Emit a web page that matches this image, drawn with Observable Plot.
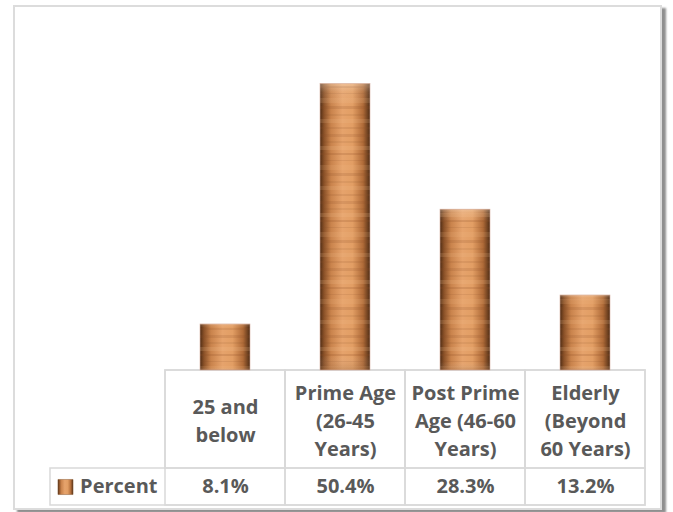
<!DOCTYPE html>
<html>
<head>
<meta charset="utf-8">
<script src="https://cdn.jsdelivr.net/npm/d3@7"></script>
<script src="https://cdn.jsdelivr.net/npm/@observablehq/plot@0.6"></script>
<style>
  html, body { margin: 0; padding: 0; background: #fff; }
  #wrap { position: relative; width: 673px; height: 512px; overflow: hidden; }
  #frame { position: absolute; left: 13px; top: 5px; width: 645px; height: 501px;
           border: 2px solid #dcdcdc; box-shadow: 4px 3px 2px #8f8f8f; background: #fff; }
  #chart { position: absolute; left: 0; top: 0; }
</style>
</head>
<body>
<div id="wrap"><div id="frame"></div><div id="chart"></div></div>
<script>
const categories = ["25 and below", "Prime Age (26-45 Years)", "Post Prime Age (46-60 Years)", "Elderly (Beyond 60 Years)"];
const headerLabels = ["25 and\nbelow", "Prime Age\n(26-45\nYears)", "Post Prime\nAge (46-60\nYears)", "Elderly\n(Beyond\n60 Years)"];
const percent = [8.1, 50.4, 28.3, 13.2];
const valueLabels = ["8.1%", "50.4%", "28.3%", "13.2%"];
const seriesName = "Percent";

const data = categories.map((c, i) => ({cat: c, header: headerLabels[i], value: percent[i], label: valueLabels[i]}));

const textColor = "#595959";
const gridColor = "#d9d9d9";
const font = "'Open Sans', sans-serif";

// table rows extend below the value axis (linear extrapolation of the y scale)
const pxPerUnit = 341 / 60;
const headerBottom = -98 / pxPerUnit;
const valueBottom = -135 / pxPerUnit;

const plot = Plot.plot({
  width: 673,
  height: 512,
  marginLeft: 165,
  marginRight: 28,
  marginTop: 29,
  marginBottom: 142,
  style: {background: "transparent", fontFamily: font},
  x: {type: "band", domain: categories, padding: 0, axis: null},
  y: {domain: [0, 60], axis: null},
  marks: [
    // table cells
    Plot.rect([0], {y1: headerBottom, y2: valueBottom, insetLeft: -115, fill: "none", stroke: gridColor, strokeWidth: 1.5}),
    Plot.barY(data, {x: "cat", y1: 0, y2: valueBottom, fill: "none", stroke: gridColor, strokeWidth: 1.5}),
    Plot.barY(data, {x: "cat", y1: 0, y2: headerBottom, fill: "none", stroke: gridColor, strokeWidth: 1.5}),
    // bars
    Plot.barY(data, {x: "cat", y: "value", insetLeft: 35, insetRight: 35, fill: "url(#woodH)"}),
    Plot.barY(data, {x: "cat", y: "value", insetLeft: 35, insetRight: 35, fill: "url(#stripes)"}),
    Plot.barY(data, {x: "cat", y: "value", insetLeft: 35, insetRight: 35, fill: "url(#bevel)", stroke: "#d8b0a0", strokeWidth: 0.6}),
    // header labels
    Plot.text(data, {x: "cat", y: headerBottom / 2, text: "header", fill: textColor, fontSize: 20, fontWeight: "bold", lineHeight: 1.4, lineAnchor: "middle", fontFamily: font}),
    // values
    Plot.text(data, {x: "cat", y: (headerBottom + valueBottom) / 2, text: "label", fill: textColor, fontSize: 20, fontWeight: "bold", lineAnchor: "middle", fontFamily: font}),
    // series name + key
    Plot.text([seriesName], {y: (headerBottom + valueBottom) / 2, frameAnchor: "left", text: d => d, dx: -8, textAnchor: "end", fill: textColor, fontSize: 20, fontWeight: "bold", lineAnchor: "middle", fontFamily: font}),
    Plot.dot([seriesName], {y: (headerBottom + valueBottom) / 2, frameAnchor: "left", dx: -100, symbol: "square", r: 8.5, fill: "url(#woodH)", stroke: "#8a5a35", strokeWidth: 0.5})
  ]
});

d3.select(plot).insert("defs", ":first-child").html(`
  <linearGradient id="woodH" x1="0" x2="1" y1="0" y2="0">
    <stop offset="0" stop-color="#4e2c14"/>
    <stop offset="0.08" stop-color="#8a5128"/>
    <stop offset="0.22" stop-color="#c9834c"/>
    <stop offset="0.45" stop-color="#e6a36c"/>
    <stop offset="0.65" stop-color="#e29e64"/>
    <stop offset="0.86" stop-color="#b06b38"/>
    <stop offset="1" stop-color="#4e2c14"/>
  </linearGradient>
  <pattern id="stripes" patternUnits="userSpaceOnUse" width="8" height="67">
    <rect x="0" y="0" width="8" height="3" fill="#8a4d25" opacity="0.16"/>
    <rect x="0" y="7" width="8" height="2" fill="#7a4420" opacity="0.1"/>
    <rect x="0" y="12" width="8" height="4" fill="#f3c08e" opacity="0.18"/>
    <rect x="0" y="19" width="8" height="2" fill="#8a4d25" opacity="0.2"/>
    <rect x="0" y="26" width="8" height="1" fill="#7a4420" opacity="0.12"/>
    <rect x="0" y="31" width="8" height="5" fill="#f0b988" opacity="0.15"/>
    <rect x="0" y="39" width="8" height="3" fill="#8a4d25" opacity="0.18"/>
    <rect x="0" y="47" width="8" height="2" fill="#7a4420" opacity="0.1"/>
    <rect x="0" y="52" width="8" height="4" fill="#f3c08e" opacity="0.16"/>
    <rect x="0" y="60" width="8" height="2" fill="#8a4d25" opacity="0.15"/>
  </pattern>
  <linearGradient id="bevel" x1="0" x2="0" y1="0" y2="1" gradientUnits="objectBoundingBox">
    <stop offset="0" stop-color="#fff2e0" stop-opacity="0.35"/>
    <stop offset="0.03" stop-color="#fff2e0" stop-opacity="0.1"/>
    <stop offset="0.08" stop-color="#fff" stop-opacity="0"/>
    <stop offset="0.95" stop-color="#fff" stop-opacity="0"/>
    <stop offset="1" stop-color="#5a341a" stop-opacity="0.2"/>
  </linearGradient>
`);

document.getElementById("chart").appendChild(plot);
</script>
</body>
</html>
